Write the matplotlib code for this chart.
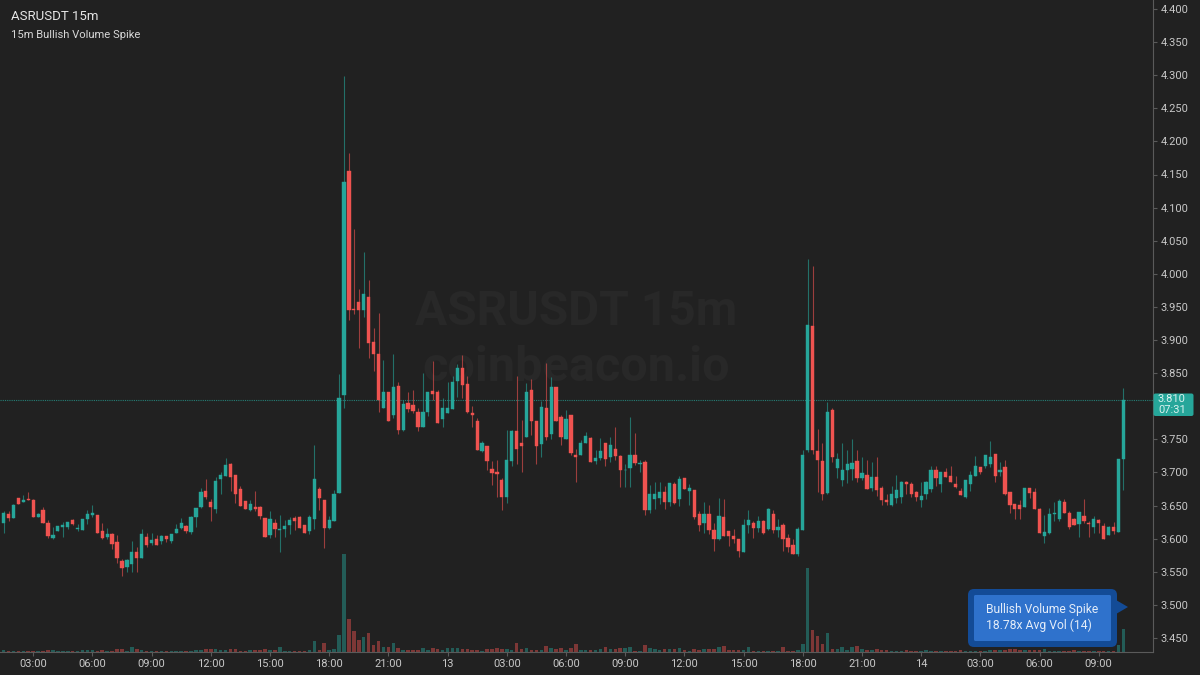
import matplotlib
matplotlib.use("Agg")
import matplotlib.pyplot as plt
from matplotlib.patches import FancyBboxPatch, Polygon

# candles, 15 minute bars starting 01:30
opens = [3.624,3.637,3.631,3.661,3.655,3.660,3.659,3.632,3.643,3.623,
         3.601,3.612,3.617,3.618,3.628,3.615,3.613,3.630,3.635,3.635,
         3.611,3.602,3.607,3.595,3.566,3.557,3.562,3.580,3.570,3.602,
         3.593,3.599,3.596,3.604,3.596,3.609,3.616,3.619,3.610,3.633,
         3.648,3.672,3.656,3.645,3.690,3.695,3.713,3.696,3.675,3.657,
         3.643,3.647,3.648,3.631,3.605,3.624,3.613,3.614,3.620,3.631,
         3.633,3.620,3.611,3.629,3.675,3.658,3.616,3.626,3.669,3.817,
         4.155,3.947,3.957,3.946,3.965,3.897,3.879,3.798,3.821,3.786,
         3.831,3.764,3.805,3.802,3.791,3.769,3.791,3.823,3.821,3.780,
         3.790,3.796,3.838,3.858,3.834,3.789,3.778,3.733,3.740,3.705,
         3.701,3.689,3.663,3.717,3.763,3.745,3.754,3.824,3.778,3.743,
         3.797,3.758,3.829,3.784,3.751,3.786,3.726,3.726,3.745,3.752,
         3.717,3.722,3.744,3.724,3.736,3.725,3.703,3.706,3.727,3.713,
         3.716,3.643,3.660,3.661,3.670,3.656,3.682,3.660,3.691,3.672,
         3.674,3.637,3.623,3.637,3.613,3.600,3.632,3.611,3.604,3.599,
         3.580,3.620,3.624,3.616,3.627,3.614,3.637,3.613,3.620,3.601,
         3.590,3.577,3.613,3.734,3.921,3.732,3.717,3.669,3.795,3.707,
         3.688,3.704,3.705,3.717,3.691,3.696,3.676,3.693,3.677,3.658,
         3.651,3.661,3.663,3.686,3.683,3.671,3.658,3.667,3.675,3.704,
         3.682,3.701,3.695,3.682,3.672,3.663,3.683,3.695,3.708,3.710,
         3.713,3.728,3.700,3.708,3.671,3.652,3.651,3.647,3.677,3.670,
         3.644,3.604,3.609,3.637,3.629,3.656,3.639,3.629,3.622,3.634,
         3.624,3.617,3.628,3.619,3.605,3.618,3.610,3.720]

closes = [3.639,3.631,3.651,3.653,3.659,3.658,3.633,3.637,3.624,3.604,
          3.605,3.619,3.621,3.625,3.622,3.616,3.630,3.637,3.638,3.608,
          3.601,3.607,3.592,3.571,3.555,3.567,3.580,3.571,3.607,3.590,
          3.598,3.590,3.604,3.600,3.607,3.614,3.623,3.612,3.632,3.646,
          3.670,3.663,3.648,3.687,3.696,3.711,3.693,3.667,3.650,3.644,
          3.653,3.645,3.634,3.603,3.630,3.614,3.615,3.619,3.628,3.627,
          3.616,3.609,3.632,3.690,3.661,3.616,3.628,3.668,3.812,4.139,
          3.946,3.945,3.946,3.969,3.895,3.879,3.809,3.821,3.777,3.829,
          3.764,3.804,3.796,3.793,3.769,3.791,3.821,3.818,3.774,3.797,
          3.797,3.836,3.858,3.832,3.791,3.786,3.734,3.744,3.717,3.699,
          3.697,3.663,3.718,3.763,3.735,3.740,3.822,3.777,3.740,3.799,
          3.754,3.829,3.778,3.753,3.781,3.729,3.724,3.745,3.755,3.716,
          3.722,3.733,3.720,3.741,3.725,3.703,3.704,3.727,3.714,3.714,
          3.643,3.667,3.667,3.670,3.656,3.684,3.654,3.690,3.675,3.677,
          3.633,3.620,3.637,3.613,3.600,3.634,3.604,3.604,3.599,3.582,
          3.620,3.628,3.616,3.627,3.609,3.645,3.613,3.617,3.599,3.588,
          3.577,3.614,3.726,3.922,3.734,3.719,3.668,3.791,3.724,3.720,
          3.703,3.712,3.714,3.692,3.699,3.675,3.693,3.673,3.658,3.656,
          3.667,3.673,3.686,3.682,3.668,3.663,3.664,3.686,3.704,3.691,
          3.701,3.693,3.686,3.678,3.666,3.688,3.696,3.709,3.700,3.726,
          3.723,3.694,3.703,3.667,3.651,3.645,3.645,3.677,3.669,3.644,
          3.609,3.610,3.637,3.638,3.657,3.639,3.618,3.621,3.640,3.626,
          3.622,3.629,3.624,3.599,3.618,3.612,3.720,3.809]

highs = [3.642,3.641,3.652,3.662,3.666,3.670,3.660,3.639,3.647,3.628,
         3.618,3.619,3.625,3.625,3.629,3.622,3.630,3.643,3.651,3.635,
         3.623,3.616,3.609,3.605,3.569,3.569,3.596,3.587,3.615,3.609,
         3.609,3.605,3.606,3.604,3.607,3.622,3.631,3.620,3.634,3.646,
         3.676,3.690,3.660,3.693,3.701,3.721,3.714,3.696,3.680,3.657,
         3.658,3.672,3.650,3.631,3.641,3.629,3.635,3.628,3.632,3.634,
         3.634,3.621,3.635,3.741,3.678,3.658,3.634,3.674,3.849,4.299,
         4.182,4.068,3.977,4.033,3.991,3.918,3.941,3.870,3.821,3.879,
         3.836,3.809,3.822,3.824,3.798,3.850,3.821,3.868,3.824,3.812,
         3.836,3.845,3.864,3.877,3.845,3.801,3.782,3.747,3.740,3.717,
         3.719,3.691,3.764,3.764,3.845,3.779,3.835,3.841,3.778,3.808,
         3.866,3.844,3.829,3.786,3.794,3.786,3.735,3.749,3.761,3.753,
         3.734,3.752,3.744,3.754,3.769,3.726,3.712,3.783,3.759,3.719,
         3.719,3.681,3.685,3.685,3.679,3.684,3.685,3.694,3.692,3.682,
         3.674,3.642,3.655,3.651,3.623,3.661,3.660,3.611,3.615,3.600,
         3.630,3.643,3.626,3.634,3.628,3.646,3.643,3.629,3.623,3.607,
         3.599,3.618,3.734,4.022,4.012,3.766,3.744,3.806,3.798,3.729,
         3.744,3.734,3.751,3.734,3.723,3.718,3.715,3.723,3.679,3.668,
         3.679,3.696,3.687,3.687,3.685,3.672,3.685,3.687,3.709,3.709,
         3.701,3.706,3.709,3.695,3.677,3.688,3.702,3.725,3.708,3.726,
         3.748,3.728,3.716,3.719,3.671,3.652,3.659,3.677,3.677,3.676,
         3.646,3.636,3.646,3.656,3.660,3.660,3.642,3.631,3.640,3.660,
         3.626,3.634,3.629,3.623,3.619,3.625,3.720,3.827]

lows = [3.609,3.627,3.631,3.653,3.655,3.658,3.633,3.632,3.623,3.601,
        3.599,3.612,3.603,3.614,3.620,3.612,3.613,3.622,3.632,3.608,
        3.599,3.599,3.585,3.563,3.543,3.550,3.550,3.549,3.570,3.588,
        3.590,3.590,3.592,3.595,3.594,3.609,3.614,3.609,3.607,3.618,
        3.646,3.660,3.627,3.639,3.668,3.695,3.672,3.654,3.650,3.644,
        3.642,3.642,3.630,3.602,3.601,3.603,3.580,3.603,3.607,3.613,
        3.616,3.608,3.607,3.614,3.643,3.586,3.615,3.626,3.669,3.798,
        3.930,3.939,3.888,3.935,3.873,3.853,3.791,3.798,3.777,3.782,
        3.758,3.762,3.791,3.789,3.762,3.769,3.785,3.809,3.774,3.769,
        3.790,3.796,3.814,3.813,3.789,3.769,3.734,3.731,3.704,3.681,
        3.663,3.643,3.654,3.710,3.712,3.701,3.754,3.756,3.712,3.723,
        3.749,3.750,3.778,3.741,3.750,3.727,3.686,3.726,3.744,3.716,
        3.713,3.719,3.710,3.716,3.719,3.678,3.678,3.678,3.711,3.701,
        3.636,3.639,3.645,3.653,3.644,3.649,3.652,3.649,3.675,3.651,
        3.630,3.611,3.608,3.607,3.582,3.598,3.604,3.589,3.593,3.572,
        3.580,3.609,3.601,3.610,3.607,3.613,3.609,3.602,3.582,3.580,
        3.577,3.573,3.613,3.731,3.728,3.671,3.659,3.667,3.716,3.692,
        3.679,3.684,3.688,3.685,3.689,3.675,3.672,3.664,3.651,3.651,
        3.649,3.654,3.654,3.668,3.663,3.657,3.647,3.660,3.671,3.679,
        3.671,3.693,3.686,3.677,3.666,3.662,3.672,3.694,3.698,3.706,
        3.708,3.686,3.694,3.666,3.639,3.629,3.629,3.647,3.661,3.644,
        3.609,3.594,3.607,3.627,3.627,3.638,3.615,3.620,3.603,3.623,
        3.603,3.609,3.609,3.599,3.605,3.607,3.610,3.673]

volumes = [1.5,.5,1,.5,.5,.5,.5,.5,1,2,
           1.5,.5,.5,.5,.5,.5,1.5,1.5,1.5,1,
           1.5,.8,1,3,3,.8,4.5,3,2,1,
           .5,.5,.5,.5,.5,.8,.8,.8,.8,1.5,
           1.5,3,2.5,2.5,2,2,2.5,2.5,.8,.8,
           1.5,1.5,2,3,2,1.5,4.5,.8,.8,.8,
           .8,.8,1.5,11,1.5,9,1.5,3,17,98,
           33,21,12,15,19,7,11,5,5,9,
           4,2,2,2,1.5,3.5,1.5,4,3,2,
           3.5,3.5,3.5,2.5,2.5,2,2,1,2.5,2.5,
           3.5,2.5,3,2,8.5,3,3.5,2,2,2,
           6,4,2.5,4,2,4,8,2,2,2,
           1.5,2.5,4.5,3,2.5,3.5,3.5,5,1,1,
           7,4,2.5,1.5,2.5,3,2.5,4,2,1,
           2.5,1.5,2.5,3,3,4.5,5.5,1.5,1.5,1.5,
           2,5,1,1,1,.8,1,.8,4.5,1,
           1,2,8,84,22,16,8,19,3,3,
           4.5,2,4.5,5.5,3,2,1.5,3,2,1.5,
           1,1,1,1.5,1,1,1,1.5,1,1,
           1,1,1,1,1.5,1,1,1,1,1,
           1.5,1.5,1.5,2,2.5,2.5,1.5,1.5,1.5,1.5,
           2,2.5,1,1,1,1,1,1.5,1,1,
           1,1,1,1,1,1,6.5,23]

time_ticks = [6, 18, 30, 42, 54, 66, 78, 90, 102, 114, 126, 138, 150, 162, 174, 186, 198, 210, 222]
time_labels = ["03:00", "06:00", "09:00", "12:00", "15:00", "18:00", "21:00", "13",
               "03:00", "06:00", "09:00", "12:00", "15:00", "18:00", "21:00", "14",
               "03:00", "06:00", "09:00"]
price_ticks = [3.45, 3.50, 3.55, 3.60, 3.65, 3.70, 3.75, 3.85, 3.90, 3.95, 4.00,
               4.05, 4.10, 4.15, 4.20, 4.25, 4.30, 4.35, 4.40]
last_price = 3.81

BG = "#212121"
GREEN = "#26a69a"
RED = "#ef5350"
TEXT = "#c8c8c8"
AXIS = "#5a5a5a"

plt.rcParams["font.family"] = ["Roboto", "DejaVu Sans"]

fig = plt.figure(figsize=(12, 6.75), dpi=100, facecolor=BG)
rect = [0, (675 - 651.5) / 675, 1153 / 1200, 651.5 / 675]

ax_vol = fig.add_axes(rect, facecolor=BG)
ax = fig.add_axes(rect, facecolor="none")

idx = list(range(len(opens)))
colors = [GREEN if c >= o else RED for o, c in zip(opens, closes)]
bottoms = [min(o, c) for o, c in zip(opens, closes)]
heights = [abs(c - o) for o, c in zip(opens, closes)]
xlim = (-3.6 / 4.933, (1153 - 3.6) / 4.933)

# volume underneath
ax_vol.bar(idx, volumes, width=0.72, color=colors, alpha=0.45, linewidth=0)
ax_vol.set_xlim(xlim)
ax_vol.set_ylim(0, 651.5)
ax_vol.axis("off")

ax_vol.text(0.5, (651.5 - 312) / 651.5, "ASRUSDT 15m", transform=ax_vol.transAxes, color="#282828",
            fontsize=34.5, fontweight="bold", ha="center", va="center")
ax_vol.text(0.5, (651.5 - 368) / 651.5, "coinbeacon.io", transform=ax_vol.transAxes, color="#282828",
            fontsize=35, fontweight="bold", ha="center", va="center")

# candles
ax.vlines(idx, lows, highs, colors=colors, linewidth=0.8, alpha=0.6, zorder=2)
ax.bar(idx, heights, bottom=bottoms, width=0.66, color=colors, edgecolor=colors, linewidth=0.3, zorder=3)
ax.axhline(last_price, color=GREEN, linewidth=0.8, linestyle=(0, (1, 1)), alpha=0.7, zorder=1)

ax.set_xlim(xlim)
ax.set_ylim(4.4 - 642.5 / 662, 4.4 + 9 / 662)

ax.yaxis.tick_right()
ax.set_yticks(price_ticks)
ax.set_yticklabels(["%.3f" % p for p in price_ticks])
ax.set_xticks(time_ticks)
ax.set_xticklabels(time_labels)
ax.tick_params(axis="both", colors=AXIS, labelcolor=TEXT, labelsize=8, length=3, width=0.8, pad=2.5)
for side in ["top", "left"]:
    ax.spines[side].set_visible(False)
for side in ["right", "bottom"]:
    ax.spines[side].set_color(AXIS)
    ax.spines[side].set_linewidth(0.8)

# overlay in pixel coordinates for the title, price tag and callout
over = fig.add_axes([0, 0, 1, 1], facecolor="none")
over.set_xlim(0, 1200)
over.set_ylim(675, 0)
over.axis("off")

over.text(11, 16, "ASRUSDT 15m", color="#e6e6e6", fontsize=9.5, va="center")
over.text(11, 35, "15m Bullish Volume Spike", color="#d8d8d8", fontsize=8.1, va="center")

over.add_patch(FancyBboxPatch((1153.5, 393.5), 40, 22.5, boxstyle="round,pad=0,rounding_size=2",
                              facecolor=GREEN, edgecolor="none"))
over.text(1158, 399.5, "3.810", color="#d9f2ef", fontsize=8, va="center")
over.text(1158, 410, "07:31", color="#d9f2ef", fontsize=8, va="center")

over.add_patch(Polygon([(1116, 600), (1128, 607), (1116, 614)], facecolor="#134b96", edgecolor="none"))
over.add_patch(FancyBboxPatch((968, 589), 149, 58, boxstyle="round,pad=0,rounding_size=6",
                              facecolor="#134b96", edgecolor="none"))
over.add_patch(FancyBboxPatch((974, 595), 137, 46, boxstyle="round,pad=0,rounding_size=1.5",
                              facecolor="#2f72cc", edgecolor="none"))
over.text(986, 610, "Bullish Volume Spike", color="#e4edf9", fontsize=8.7, va="center")
over.text(986, 625, "18.78x Avg Vol (14)", color="#e4edf9", fontsize=8.7, va="center")

fig.savefig("out.png", dpi=100, facecolor=BG)
